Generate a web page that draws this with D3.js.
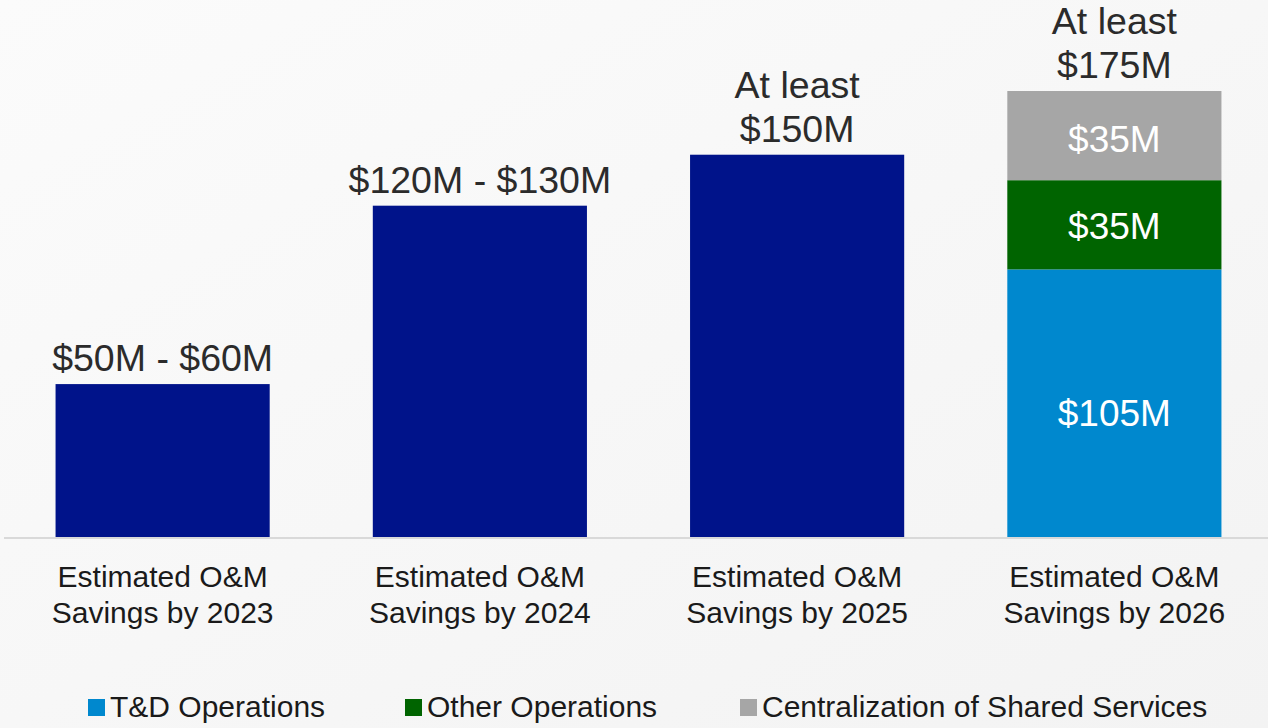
<!DOCTYPE html>
<meta charset="utf-8">
<style>
body { margin: 0; background: #f7f7f7; }
text { font-family: "Liberation Sans", Arial, sans-serif; }
.val { font-size: 37.5px; fill: #2b2b2b; }
.seg { font-size: 37px; fill: #fff; }
.cat { font-size: 30px; fill: #1a1a1a; }
.leg { font-size: 30px; fill: #1a1a1a; }
</style>
<body>
<script src="https://d3js.org/d3.v7.min.js"></script>
<script>
// data
var categories = ["2023", "2024", "2025", "2026"];
var catLine1 = ["Estimated O&M", "Estimated O&M", "Estimated O&M", "Estimated O&M"];
var catLine2 = ["Savings by 2023", "Savings by 2024", "Savings by 2025", "Savings by 2026"];
var seriesNames = ["Total", "T&D Operations", "Other Operations", "Centralization of Shared Services"];
var totalSavings = [60, 130, 150, 0];
var tdOperations = [0, 0, 0, 105];
var otherOperations = [0, 0, 0, 35];
var centralization = [0, 0, 0, 35];
var topLabels = [["$50M - $60M"], ["$120M - $130M"], ["At least", "$150M"], ["At least", "$175M"]];
var segLabels = ["", "$105M", "$35M", "$35M"];
var colors = ["#00138a", "#0088ce", "#006400", "#a6a6a6"];

var width = 1268, height = 728;
var svg = d3.select("body").append("svg")
    .attr("width", width)
    .attr("height", height);

// soft background gradient
var grad = svg.append("defs").append("linearGradient")
    .attr("id", "bg").attr("x1", 0).attr("y1", 0).attr("x2", 1).attr("y2", 1);
grad.append("stop").attr("offset", "0%").attr("stop-color", "#fbfbfb");
grad.append("stop").attr("offset", "100%").attr("stop-color", "#f3f3f3");
svg.append("rect").attr("width", width).attr("height", height).attr("fill", "url(#bg)");

var x = d3.scaleBand()
    .domain(categories)
    .range([4, 1273])
    .paddingInner(0.325)
    .paddingOuter(0.1625);

var y = d3.scaleLinear()
    .domain([0, 175])
    .range([537, 91]);

// build table for stacking
var table = categories.map(function(c, i) {
    return {
        cat: c,
        "Total": totalSavings[i],
        "T&D Operations": tdOperations[i],
        "Other Operations": otherOperations[i],
        "Centralization of Shared Services": centralization[i]
    };
});
var stacked = d3.stack().keys(seriesNames)(table);

// bars
var layers = svg.selectAll(".layer")
    .data(stacked)
    .enter().append("g")
    .attr("class", "layer")
    .attr("fill", function(d, i) { return colors[i]; });

layers.selectAll("rect")
    .data(function(d) { return d.filter(function(p) { return p[1] > p[0]; }); })
    .enter().append("rect")
    .attr("x", function(d) { return x(d.data.cat); })
    .attr("y", function(d) { return y(d[1]); })
    .attr("width", x.bandwidth())
    .attr("height", function(d) { return y(d[0]) - y(d[1]); });

// labels inside stacked segments
var segDy = [0, 23, 14, 16];
layers.each(function(layer, i) {
    if (!segLabels[i]) return;
    d3.select(this).selectAll("text")
        .data(layer.filter(function(p) { return p[1] > p[0]; }))
        .enter().append("text")
        .attr("class", "seg")
        .attr("x", function(d) { return x(d.data.cat) + x.bandwidth() / 2; })
        .attr("y", function(d) { return (y(d[0]) + y(d[1])) / 2 + segDy[i]; })
        .attr("text-anchor", "middle")
        .text(segLabels[i]);
});

// baseline
svg.append("line")
    .attr("x1", 4).attr("x2", width)
    .attr("y1", y(0) + 1).attr("y2", y(0) + 1)
    .attr("stroke", "#d9d9d9")
    .attr("stroke-width", 2);

// top labels
var totals = table.map(function(d) {
    return d["Total"] + d["T&D Operations"] + d["Other Operations"] + d["Centralization of Shared Services"];
});
categories.forEach(function(c, i) {
    var lines = topLabels[i];
    var t = svg.append("text")
        .attr("class", "val")
        .attr("text-anchor", "middle");
    lines.forEach(function(l, j) {
        t.append("tspan")
            .attr("x", x(c) + x.bandwidth() / 2)
            .attr("y", y(totals[i]) - 13 - (lines.length - 1 - j) * 44)
            .text(l);
    });
});

// category labels
categories.forEach(function(c, i) {
    var t = svg.append("text")
        .attr("class", "cat")
        .attr("text-anchor", "middle");
    t.append("tspan").attr("x", x(c) + x.bandwidth() / 2).attr("y", 587).text(catLine1[i]);
    t.append("tspan").attr("x", x(c) + x.bandwidth() / 2).attr("y", 623).text(catLine2[i]);
});

// legend
var legendX = [88, 405, 740];
var legend = svg.selectAll(".legend")
    .data(seriesNames.slice(1))
    .enter().append("g")
    .attr("class", "legend")
    .attr("transform", function(d, i) { return "translate(" + legendX[i] + ",699)"; });
legend.append("rect")
    .attr("width", 17).attr("height", 17)
    .attr("fill", function(d, i) { return colors[i + 1]; });
legend.append("text")
    .attr("class", "leg")
    .attr("x", 22)
    .attr("y", 18)
    .text(function(d) { return d; });
</script>
</body>
